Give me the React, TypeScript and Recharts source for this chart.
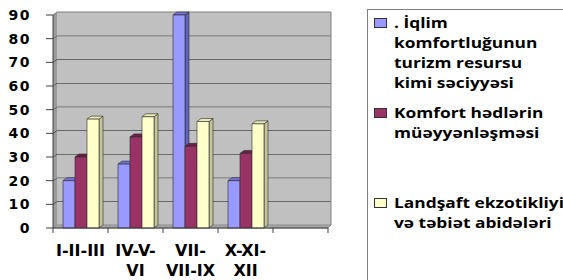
import React from 'react';
import { BarChart, Bar, XAxis, YAxis, ReferenceArea } from 'recharts';

const categories = ['I-II-III', 'IV-V-VI', 'VII-VII-IX', 'X-XI-XII', ''];
const seriesIqlim = [20, 27, 90, 20, null];
const seriesKomfort = [30, 38.5, 34.5, 31.5, null];
const seriesLandsaft = [46, 47, 45, 44, null];
const yTicks = [0, 10, 20, 30, 40, 50, 60, 70, 80, 90];
const seriesNames = [
  '. İqlim komfortluğunun turizm resursu kimi səciyyəsi',
  'Komfort hədlərin müəyyənləşməsi',
  'Landşaft ekzotikliyi və təbiət abidələri',
];
const legendLines = [
  ['. İqlim', 'komfortluğunun', 'turizm resursu', 'kimi səciyyəsi'],
  ['Komfort hədlərin', 'müəyyənləşməsi'],
  ['Landşaft ekzotikliyi', 'və təbiət abidələri'],
];

const palettes = [
  { front: '#9999FF', top: '#7474D6', side: '#6262C0' },
  { front: '#993366', top: '#6E1F47', side: '#74244C' },
  { front: '#FFFFCC', top: '#EDEDB8', side: '#C4C496' },
];

const data = categories.map((c, i) => ({
  name: c,
  s1: seriesIqlim[i],
  s2: seriesKomfort[i],
  s3: seriesLandsaft[i],
}));

const DX = 4;
const DY = 3;

function Bar3D(props: any) {
  const { x, y, width, height, pal } = props;
  if (x == null || !height || height <= 0) return null;
  const w = width;
  const d = 4;
  return (
    <g stroke="#2a2a2a" strokeWidth={0.6} strokeLinejoin="round">
      <polygon
        points={`${x + w},${y} ${x + w + d},${y - DY} ${x + w + d},${y + height - DY} ${x + w},${y + height}`}
        fill={pal.side}
      />
      <polygon
        points={`${x},${y} ${x + d},${y - DY} ${x + w + d},${y - DY} ${x + w},${y}`}
        fill={pal.top}
      />
      <rect x={x} y={y} width={w} height={height} fill={pal.front} />
    </g>
  );
}

function WallBand(props: any) {
  const { x, y, width, height, isBottom, isTop } = props;
  if (x == null) return null;
  const xr = x + width + 3;
  return (
    <g>
      <rect x={x + DX} y={y - DY} width={xr - x - DX} height={height} fill="#C0C0C0" />
      <polygon
        points={`${x},${y + height} ${x},${y} ${x + DX},${y - DY} ${x + DX},${y + height - DY}`}
        fill="#9A9A9A"
      />
      {isBottom && (
        <polygon
          points={`${x},${y + height} ${x + width},${y + height} ${xr},${y + height - DY} ${x + DX},${y + height - DY}`}
          fill="#A8A8A8"
          stroke="#808080"
          strokeWidth={0.8}
        />
      )}
      <polyline
        points={`${x},${y} ${x + DX},${y - DY} ${xr},${y - DY}`}
        fill="none"
        stroke={isTop ? '#808080' : '#1a1a1a'}
        strokeWidth={1}
      />
      <line x1={xr} y1={y - DY} x2={xr} y2={y + height - DY} stroke="#808080" strokeWidth={1} />
    </g>
  );
}

const CW: Record<string, number> = { I: 0.372, V: 0.774, X: 0.757, '-': 0.415 };
function textW(s: string, fs: number) {
  let t = 0;
  for (const ch of s) t += CW[ch] ?? 0.7;
  return t * fs;
}
function wrapLabel(label: string, fs: number, maxW: number) {
  const parts = label.match(/[^-]+-?|-/g) || [];
  const lines: string[] = [];
  let cur = '';
  for (const p of parts) {
    const test = cur + p;
    if (cur && textW(test, fs) > maxW) {
      lines.push(cur);
      cur = p;
    } else cur = test;
  }
  if (cur) lines.push(cur);
  return lines;
}

function XTick(props: any) {
  const { x, y, payload, index, visibleTicksCount } = props;
  const off = payload && typeof payload.offset === 'number' && payload.offset > 0 ? payload.offset : 27.5;
  const lines = wrapLabel(String(payload.value ?? ''), 16, off * 2);
  const last = index === visibleTicksCount - 1;
  return (
    <g>
      <line x1={x - off} y1={y} x2={x - off} y2={y + 5} stroke="#404040" />
      {last && <line x1={x + off} y1={y} x2={x + off} y2={y + 5} stroke="#404040" />}
      <text
        x={x}
        y={y + 28}
        textAnchor="middle"
        style={{ fontFamily: 'DejaVu Sans', fontWeight: 700, fontSize: 16 }}
        fill="#000"
      >
        {lines.map((l, i) => (
          <tspan key={i} x={x} dy={i === 0 ? 0 : 20}>
            {l}
          </tspan>
        ))}
      </text>
    </g>
  );
}

function YTick(props: any) {
  const { x, y, payload } = props;
  return (
    <text
      x={x}
      y={y}
      dy="0.36em"
      textAnchor="end"
      fill="#000"
      style={{ fontFamily: 'DejaVu Sans', fontWeight: 700, fontSize: 14, letterSpacing: 1.5 }}
    >
      {payload.value}
    </text>
  );
}

function LegendBox() {
  const tx = 27;
  return (
    <svg
      width={196}
      height={271}
      style={{ position: 'absolute', left: 367, top: 9, overflow: 'hidden' }}
    >
      <line x1={0.5} y1={0} x2={0.5} y2={271} stroke="#808080" />
      <line x1={0} y1={0.5} x2={196} y2={0.5} stroke="#808080" />
      {seriesNames.map((name, i) => {
        const base = 19 + 90 * i;
        return (
          <g key={name}>
            <rect x={7.5} y={base - 9.5} width={12} height={9} fill={palettes[i].front} stroke="#333" strokeWidth={1} />
            <text
              x={tx}
              y={base}
              fill="#000"
              transform={`translate(${tx} 0) scale(1.24 1) translate(${-tx} 0)`}
              style={{ fontFamily: 'Open Sans', fontWeight: 700, fontSize: 14 }}
            >
              {legendLines[i].map((l, j) => (
                <tspan key={j} x={tx} dy={j === 0 ? 0 : 20}>
                  {l}
                </tspan>
              ))}
            </text>
          </g>
        );
      })}
    </svg>
  );
}

export default function App() {
  const keys = ['s1', 's2', 's3'];
  return (
    <div style={{ position: 'absolute', left: 0, top: 0, width: 563, height: 280, background: '#fff' }}>
      <BarChart
        width={563}
        height={280}
        data={data}
        margin={{ top: 15, right: 235, bottom: 0, left: 0 }}
        barSize={12}
        barGap={0}
      >
        <XAxis
          dataKey="name"
          interval={0}
          height={52}
          tickSize={0}
          tickMargin={0}
          tickLine={false}
          axisLine={{ stroke: '#404040' }}
          tick={<XTick />}
        />
        <YAxis
          width={53}
          domain={[0, 90]}
          ticks={yTicks}
          interval={0}
          tickSize={7}
          tickMargin={15}
          axisLine={{ stroke: '#404040' }}
          tickLine={{ stroke: '#404040' }}
          tick={<YTick />}
        />
        {yTicks.slice(0, -1).map((v, i) => (
          <ReferenceArea
            key={v}
            y1={v}
            y2={yTicks[i + 1]}
            ifOverflow="visible"
            shape={(p: any) => (
              <WallBand {...p} isBottom={i === 0} isTop={i === yTicks.length - 2} />
            )}
          />
        ))}
        {keys.map((k, i) => (
          <Bar
            key={k}
            dataKey={k}
            name={seriesNames[i]}
            fill={palettes[i].front}
            isAnimationActive={false}
            shape={(p: any) => <Bar3D {...p} pal={palettes[i]} />}
          />
        ))}
      </BarChart>
      <LegendBox />
    </div>
  );
}
